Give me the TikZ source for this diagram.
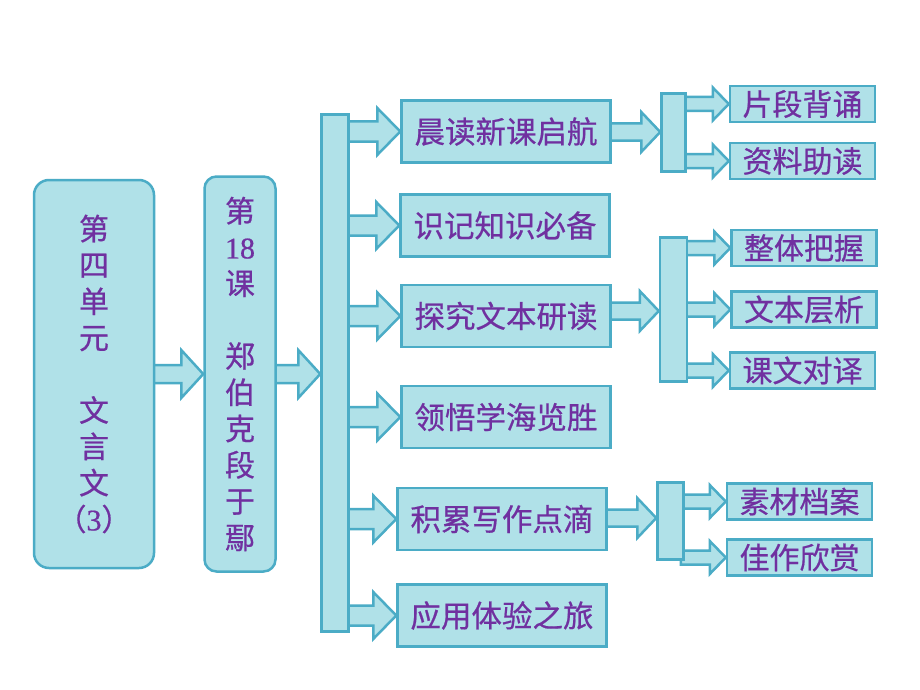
\documentclass[tikz,border=0pt]{standalone}
\usepackage{fontspec}
\setmainfont{Noto Sans CJK SC}[FakeBold=0.6]
\newfontfamily\serifnum{Liberation Serif}[FakeBold=0.6]
\usetikzlibrary{calc,backgrounds}
\definecolor{fillc}{RGB}{176,225,232}
\definecolor{edgec}{RGB}{75,172,198}
\definecolor{txtc}{RGB}{112,48,160}
\tikzset{
  box/.style={draw=edgec, fill=fillc, line width=2.5pt, inner sep=0pt, text=txtc,
              font=\fontsize{30.5}{34}\selectfont},
  sbox/.style={box, font=\fontsize{30}{34}\selectfont},
  rbox/.style={box, align=center, font=\fontsize{30}{36.3}\selectfont},
  barbox/.style={draw=edgec, fill=fillc, line width=2.5pt, inner sep=0pt},
  blk/.style={draw=edgec, fill=fillc, line width=2.5pt, line join=miter},
}
% #1 source, #2 target, #3 y, #4 shaft half, #5 head half, #6 head length
\newcommand\blkarrow[6]{%
  \path[blk] let \p1=(#1.east), \p2=(#2.west), \p3=(0,#3) in
    (\x1-4pt,\y3+#4) -- (\x2-#6,\y3+#4) -- (\x2-#6,\y3+#5) -- (\x2,\y3)
    -- (\x2-#6,\y3-#5) -- (\x2-#6,\y3-#4) -- (\x1-4pt,\y3-#4) -- cycle;}
\begin{document}
\begin{tikzpicture}[x=1pt,y=-1pt]
\useasboundingbox (0,0) rectangle (920,690);
% left column
\node[rbox, rounded corners=15pt, minimum width=120pt, minimum height=388pt] (unit) at (94,374)
  {第\\四\\单\\元\\\mbox{}\\文\\言\\文\\（{\serifnum 3}）};
\node[rbox, rounded corners=12pt, minimum width=71pt, minimum height=395pt] (lesson) at (240,374)
  {第\\{\serifnum 18}\\课\\\mbox{}\\郑\\伯\\克\\段\\于\\鄢};
\node[barbox, minimum width=27pt, minimum height=517pt] (bar) at (335,373) {};
% main boxes
\node[box, minimum width=209pt, minimum height=62pt] (m1) at (506,131.5) {晨读新课启航};
\node[box, minimum width=209pt, minimum height=62pt] (m2) at (505,225.5) {识记知识必备};
\node[box, minimum width=209pt, minimum height=62pt] (m3) at (506,316) {探究文本研读};
\node[box, minimum width=209pt, minimum height=62pt] (m4) at (506,417) {领悟学海览胜};
\node[box, minimum width=209pt, minimum height=62pt] (m5) at (502,519) {积累写作点滴};
\node[box, minimum width=209pt, minimum height=62pt] (m6) at (502,615.5) {应用体验之旅};
% sub bars
\node[barbox, minimum width=24pt, minimum height=78pt] (b1) at (673.5,132.5) {};
\node[barbox, minimum width=27pt, minimum height=144pt] (b2) at (673.5,309.5) {};
\node[barbox, minimum width=26pt, minimum height=77pt] (b3) at (670.5,521) {};
% small boxes
\node[sbox, minimum width=145pt, minimum height=36pt] (s1) at (802.5,104) {片段背诵};
\node[sbox, minimum width=145pt, minimum height=36pt] (s2) at (802.5,161) {资料助读};
\node[sbox, minimum width=145pt, minimum height=36pt] (s3) at (804,248) {整体把握};
\node[sbox, minimum width=145pt, minimum height=36pt] (s4) at (804,309.5) {文本层析};
\node[sbox, minimum width=145pt, minimum height=36pt] (s5) at (802.5,370.5) {课文对译};
\node[sbox, minimum width=145pt, minimum height=36pt] (s6) at (799.5,501.5) {素材档案};
\node[sbox, minimum width=145pt, minimum height=36pt] (s7) at (799.5,557.5) {佳作欣赏};
\begin{pgfonlayer}{background}
\fill[white] (0,0) rectangle (920,690);
\blkarrow{unit}{lesson}{374}{9pt}{24pt}{22pt}
\blkarrow{lesson}{bar}{374}{9pt}{24pt}{22pt}
\blkarrow{bar}{m1}{131.5}{10pt}{23.5pt}{23pt}
\blkarrow{bar}{m2}{225.5}{10pt}{23.5pt}{23pt}
\blkarrow{bar}{m3}{316}{10pt}{23.5pt}{23pt}
\blkarrow{bar}{m4}{417}{10pt}{23.5pt}{23pt}
\blkarrow{bar}{m5}{519}{10pt}{23.5pt}{23pt}
\blkarrow{bar}{m6}{615.5}{10pt}{23.5pt}{23pt}
\blkarrow{m1}{b1}{132}{8.5pt}{20pt}{19pt}
\blkarrow{m3}{b2}{311}{8.5pt}{20pt}{19pt}
\blkarrow{m5}{b3}{518}{8.5pt}{20pt}{19pt}
\blkarrow{b1}{s1}{104}{7pt}{16.5pt}{16pt}
\blkarrow{b1}{s2}{161}{7pt}{16.5pt}{16pt}
\blkarrow{b2}{s3}{248}{7pt}{16.5pt}{16pt}
\blkarrow{b2}{s4}{309.5}{7pt}{16.5pt}{16pt}
\blkarrow{b2}{s5}{370.5}{7pt}{16.5pt}{16pt}
\blkarrow{b3}{s6}{501.5}{7pt}{16.5pt}{16pt}
\blkarrow{b3}{s7}{557.5}{7pt}{16.5pt}{16pt}
\end{pgfonlayer}
\end{tikzpicture}
\end{document}
